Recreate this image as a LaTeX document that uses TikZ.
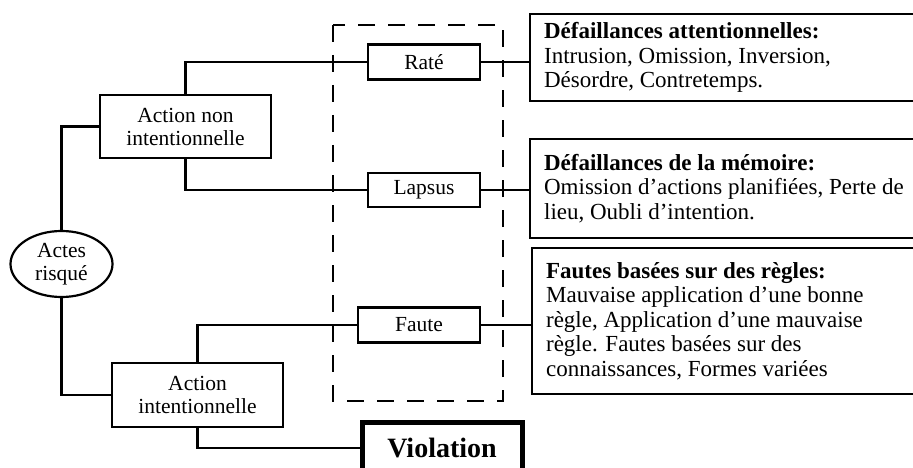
\documentclass[tikz,border=0pt]{standalone}
\usepackage{fontspec}
\setmainfont{Liberation Serif}
\usetikzlibrary{shapes.geometric}

\tikzset{
  box/.style={draw, line width=2.2pt, align=center, inner sep=2pt,
    font=\fontsize{21.5}{23}\selectfont},
  note/.style={draw, line width=2.2pt, anchor=north west, align=left, inner xsep=14pt,
    inner ysep=0pt, font=\fontsize{23}{24.5}\selectfont},
  link/.style={line width=2.2pt},
  dashbox/.style={line width=2.6pt, dash pattern=on 17pt off 13pt},
}

\begin{document}
\begin{tikzpicture}[x=1pt,y=-1pt]
        \useasboundingbox (0,0) rectangle (913,468);
        \clip (0,0) rectangle (913,468);

        % root
        \node[box, ellipse, minimum width=102pt, minimum height=66pt] (actes) at (61.5,264) {Actes\\risqué};

        % the two kinds of action
        \node[box, minimum width=171pt, minimum height=63pt] (nonint) at (185.5,126.5) {Action non\\intentionnelle};
        \node[box, minimum width=171pt, minimum height=64pt] (inten) at (197.5,395) {Action\\intentionnelle};

        % the dashed group
        \draw[dashbox] (333,25) rectangle (503,401);
        \node[box, minimum width=112pt, minimum height=35pt] (rate) at (424,62) {Raté};
        \node[box, minimum width=112pt, minimum height=34pt] (lapsus) at (424,190) {Lapsus};
        \node[box, minimum width=122pt, minimum height=35pt] (faute) at (419,325) {Faute};

        % violation
        \node[box, line width=5pt, minimum width=160pt, minimum height=52pt,
              font=\fontsize{28}{30}\selectfont\bfseries] (violation) at (442,448) {Violation};

        % the notes on the right
        \node[note] (attent) at (529,13) {\parbox[c][87pt][c]{440pt}{\textbf{Défaillances attentionnelles:}\\
          Intrusion, Omission, Inversion,\\Désordre, Contretemps.}};
        \node[note] (memoire) at (529,138) {\parbox[c][99pt][c]{440pt}{\textbf{Défaillances de la mémoire:}\\
          Omission d’actions planifiées, Perte de\\lieu, Oubli d’intention.}};
        \node[note] (regles) at (531,247) {\parbox[c][146pt][c]{440pt}{\textbf{Fautes basées sur des règles:}\\
          Mauvaise application d’une bonne\\règle, Application d’une mauvaise\\
          règle. Fautes basées sur des\\connaissances, Formes variées}};

        % connectors
        \draw[link] (actes.north) |- (nonint.west);
        \draw[link] (actes.south) |- (inten.west);
        \draw[link] (nonint.north) |- (rate.west);
        \draw[link] (nonint.south) |- (lapsus.west);
        \draw[link] (inten.north) |- (faute.west);
        \draw[link] (inten.south) |- (violation.west);
        \draw[link] (rate.east) -- (rate.east -| attent.west);
        \draw[link] (lapsus.east) -- (lapsus.east -| memoire.west);
        \draw[link] (faute.east) -- (faute.east -| regles.west);
\end{tikzpicture}
\end{document}
